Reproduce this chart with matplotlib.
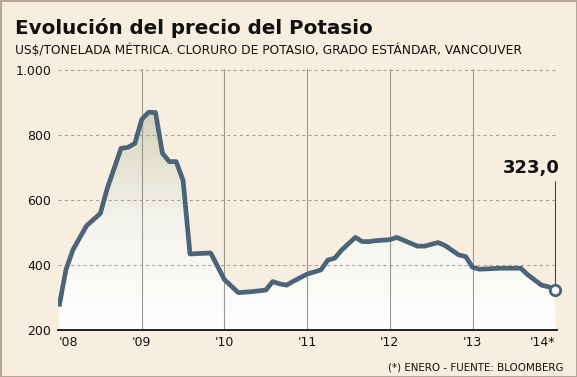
import matplotlib

matplotlib.use("Agg")
import matplotlib.pyplot as plt
import numpy as np
from matplotlib.colors import LinearSegmentedColormap
from matplotlib.patches import Rectangle

# meses desde enero 2008
MONTHS = [0, 1, 2, 4, 6, 7, 9, 10, 11, 12, 13, 14, 15, 16, 17, 18, 19, 22, 24,
          26, 28, 30, 31, 32, 33, 34, 36, 38, 39, 40, 41, 43, 44, 45, 46, 48,
          49, 50, 52, 53, 55, 56, 58, 59, 60, 61, 64, 67, 68, 70, 71, 72]
PRICES = [272, 385, 446, 521, 559, 636, 759, 762, 774, 848, 870, 869, 744, 718,
          718, 660, 434, 437, 355, 315, 318, 323, 349, 342, 338, 350, 372, 385,
          415, 421, 446, 485, 472, 472, 475, 478, 485, 476, 458, 458, 469, 460,
          431, 426, 393, 387, 390, 390, 370, 338, 333, 323]
YEAR_TICKS = [0, 12, 24, 36, 48, 60, 72]
YEAR_LABELS = ["'08", "'09", "'10", "'11", "'12", "'13", "'14*"]
Y_TICKS = [200, 400, 600, 800, 1000]
Y_LABELS = ["200", "400", "600", "800", "1.000"]
LAST_LABEL = "323,0"

TITLE = "Evolución del precio del Potasio"
SUBTITLE = "US$/TONELADA MÉTRICA. CLORURO DE POTASIO, GRADO ESTÁNDAR, VANCOUVER"
FOOTNOTE = "(*) ENERO - FUENTE: BLOOMBERG"

W, H = 577, 377
BG = "#f8eee0"
LINE = "#4b6479"
FONT = "DejaVu Sans"


def fx(px):
    return px / W


def fy(py):
    return 1 - py / H


fig = plt.figure(figsize=(W / 100, H / 100), dpi=100, facecolor=BG)
fig.patches.append(
    Rectangle((0, 0), 1, 1, transform=fig.transFigure, fill=False,
              edgecolor="#b4a595", linewidth=2.2)
)

ymin, ymax = 200, 1003
top_px = 70 - 3 * 0.325
ax = fig.add_axes([fx(58), fy(330), fx(557) - fx(58), fy(top_px) - fy(330)])
ax.set_facecolor(BG)
ax.set_xlim(-0.15, 72.25)
ax.set_ylim(ymin, ymax)

# relleno degradado bajo la curva
cmap = LinearSegmentedColormap.from_list("fill", ["#ffffff", "#f4f3ec", "#d4d2bb"])
grad = np.linspace(0, 1, 256).reshape(-1, 1)
img = ax.imshow(grad, cmap=cmap, origin="lower", aspect="auto",
                extent=(MONTHS[0], MONTHS[-1], ymin, 880), zorder=1)
poly = ax.fill_between(MONTHS, PRICES, ymin, color="none", zorder=1)
img.set_clip_path(poly.get_paths()[0], transform=ax.transData)

for y in Y_TICKS[1:]:
    ax.axhline(y, color="#a79f94", linewidth=0.75, linestyle=(0, (3, 3)),
               zorder=2, clip_on=False)
for x in YEAR_TICKS[1:-1]:
    ax.axvline(x, color="#9a9896", linewidth=0.8, zorder=2)

ax.plot(MONTHS, PRICES, color=LINE, linewidth=3.4, solid_joinstyle="round",
        solid_capstyle="butt", zorder=3)

# marcador del ultimo dato
ax.vlines(MONTHS[-1], PRICES[-1], 658, color="#444444", linewidth=0.8, zorder=2)
ax.plot(MONTHS[-1], PRICES[-1], "o", markersize=7.5, markerfacecolor="white",
        markeredgecolor=LINE, markeredgewidth=2, zorder=4, clip_on=False)
ax.text(MONTHS[-1] + 0.6, 670, LAST_LABEL, ha="right", va="bottom",
        fontsize=13, fontweight="bold", family=FONT, color="#111111")

for side in ["top", "right", "left"]:
    ax.spines[side].set_visible(False)
ax.spines["bottom"].set_color("#111111")
ax.spines["bottom"].set_linewidth(1.3)
ax.spines["bottom"].set_zorder(5)

ax.set_yticks(Y_TICKS)
ax.set_yticklabels(Y_LABELS)
ax.set_xticks(YEAR_TICKS)
ax.set_xticklabels(YEAR_LABELS)
ax.tick_params(axis="both", length=0, labelsize=9, labelcolor="#111111")
ax.tick_params(axis="y", pad=5)
ax.tick_params(axis="x", pad=4)
labels = ax.get_xticklabels()
labels[0].set_ha("left")
labels[-1].set_ha("right")
for lab in ax.get_xticklabels() + ax.get_yticklabels():
    lab.set_family(FONT)

fig.text(fx(15), fy(34), TITLE, fontsize=14.3, fontweight="bold", family=FONT,
         color="#111111", va="baseline")
fig.text(fx(15), fy(53.5), SUBTITLE, fontsize=8.85, family=FONT,
         color="#111111", va="baseline")
fig.text(fx(563), fy(371), FOOTNOTE, fontsize=7.4, family=FONT,
         color="#111111", ha="right", va="baseline")

fig.savefig("out.png", dpi=100, facecolor=BG)
